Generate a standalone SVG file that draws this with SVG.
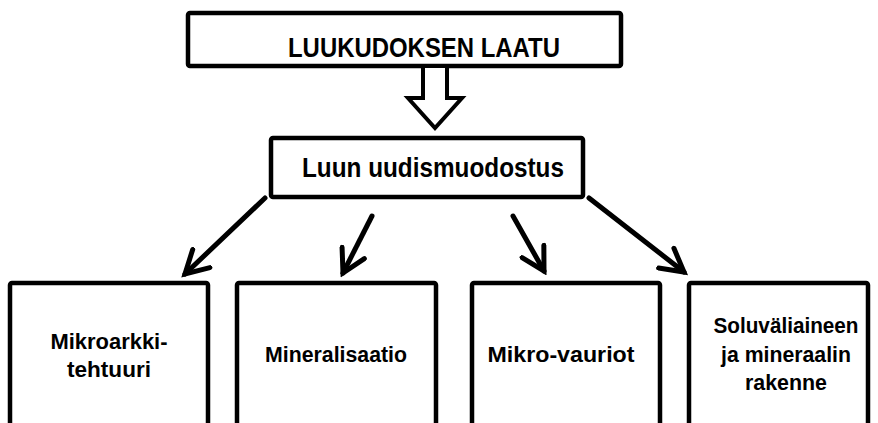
<svg xmlns="http://www.w3.org/2000/svg" width="878" height="423" viewBox="0 0 878 423">
<style>
.box{fill:#fff;stroke:#000;stroke-width:4.5;stroke-linejoin:round}
.t{font-family:"Liberation Sans",Arial,sans-serif;font-weight:bold;fill:#000;text-anchor:middle}
.big{font-size:27px}
.sm{font-size:22px}
.con{stroke:#000;stroke-width:5;fill:none;stroke-linecap:round}
</style>
<defs>
<marker id="ah" viewBox="0 0 12 12" refX="10" refY="6" markerWidth="6" markerHeight="6" markerUnits="strokeWidth" orient="auto">
<polyline points="1,1 10,6 1,11" fill="none" stroke="#000" stroke-width="2" stroke-linecap="round" stroke-linejoin="miter"/>
</marker>
</defs>
<rect width="878" height="423" fill="#fff"/>
<g id="top">
<rect class="box" x="188" y="13" width="433" height="53" rx="2"/>
<text class="t big" x="424" y="57" textLength="272" lengthAdjust="spacingAndGlyphs">LUUKUDOKSEN LAATU</text>
</g>
<g id="mid">
<rect class="box" x="271" y="138" width="312" height="59" rx="2"/>
<text class="t big" x="433" y="177" textLength="262" lengthAdjust="spacingAndGlyphs">Luun uudismuodostus</text>
</g>
<g id="b1">
<rect class="box" x="10" y="283" width="198" height="160" rx="2"/>
<text class="t sm" x="109" y="349" textLength="117" lengthAdjust="spacingAndGlyphs">Mikroarkki-</text>
<text class="t sm" x="109" y="377" textLength="84" lengthAdjust="spacingAndGlyphs">tehtuuri</text>
</g>
<g id="b2">
<rect class="box" x="237" y="283" width="199" height="160" rx="2"/>
<text class="t sm" x="336" y="362" textLength="142" lengthAdjust="spacingAndGlyphs">Mineralisaatio</text>
</g>
<g id="b3">
<rect class="box" x="472" y="283" width="188" height="160" rx="2"/>
<text class="t sm" x="561" y="362" textLength="147" lengthAdjust="spacingAndGlyphs">Mikro-vauriot</text>
</g>
<g id="b4">
<rect class="box" x="689" y="283" width="179" height="160" rx="2"/>
<text class="t sm" x="786" y="333" textLength="145" lengthAdjust="spacingAndGlyphs">Soluväliaineen</text>
<text class="t sm" x="786" y="362" textLength="130" lengthAdjust="spacingAndGlyphs">ja mineraalin</text>
<text class="t sm" x="786" y="390" textLength="82" lengthAdjust="spacingAndGlyphs">rakenne</text>
</g>
<g id="connectors">
<polygon points="423,66 447,66 447,98 462,98 435,128 408,98 423,98" fill="#fff" stroke="#000" stroke-width="4" stroke-linejoin="miter"/>
<line class="con" x1="265" y1="198" x2="185" y2="274" marker-end="url(#ah)"/>
<line class="con" x1="372" y1="216" x2="343" y2="273" marker-end="url(#ah)"/>
<line class="con" x1="513" y1="216" x2="544" y2="271" marker-end="url(#ah)"/>
<line class="con" x1="589" y1="198" x2="684" y2="272" marker-end="url(#ah)"/>
</g>
</svg>
